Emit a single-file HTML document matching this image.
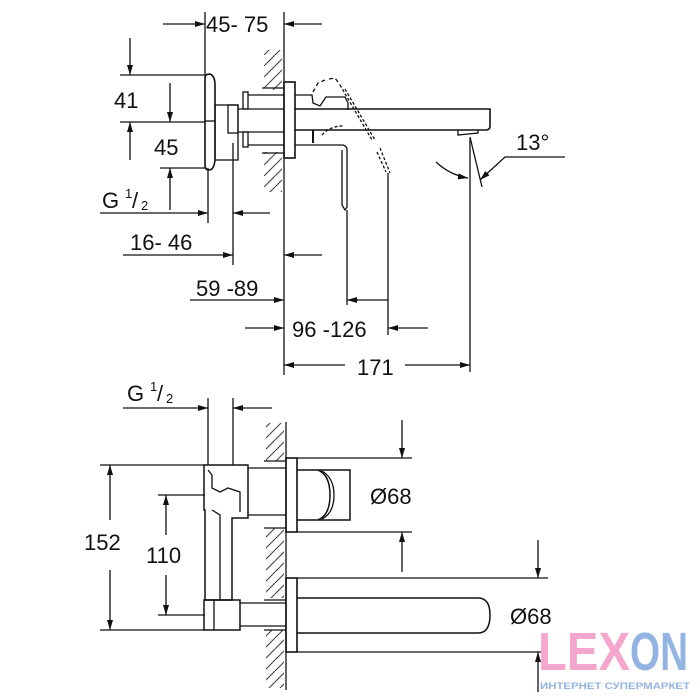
<!DOCTYPE html>
<html><head><meta charset="utf-8"><style>
body{margin:0;background:#fff;}
svg{display:block;}
text{font-family:"Liberation Sans",sans-serif;fill:#111;}
</style></head><body>
<svg width="700" height="700" viewBox="0 0 700 700" xmlns="http://www.w3.org/2000/svg">
<defs>
<marker id="a" viewBox="0 0 10 6" refX="10" refY="3" markerWidth="11" markerHeight="6" markerUnits="userSpaceOnUse" orient="auto"><path d="M0,0 L10,3 L0,6 z" fill="#111"/></marker>
<pattern id="h" width="22" height="11" patternUnits="userSpaceOnUse"><path d="M0,11 L11,0 M11,11 L22,0" stroke="#444" stroke-width="1.1"/></pattern>
</defs>
<g stroke="#111" stroke-width="1.3" fill="none">
<line x1="284" y1="12" x2="284" y2="375"/>
<rect x="264" y="50" width="18" height="40" fill="url(#h)" stroke="none"/>
<rect x="264" y="152" width="18" height="40" fill="url(#h)" stroke="none"/>
<line x1="262" y1="88" x2="284" y2="88"/>
<line x1="262" y1="153" x2="284" y2="153"/>
<line x1="205" y1="12" x2="205" y2="75"/>
<line x1="163" y1="24" x2="205" y2="24" marker-end="url(#a)"/>
<line x1="322" y1="24" x2="284" y2="24" marker-end="url(#a)"/>
<path d="M205,78 Q205,74 210,74 Q215,76 215,85 L215,160 Q214,170 209,170 Q205,170 205,165 Z" stroke-width="1.6"/>
<line x1="205" y1="121" x2="215" y2="121"/>
<rect x="215" y="105" width="23" height="55"/>
<rect x="228" y="105" width="10" height="28"/>
<rect x="243" y="92" width="5" height="17"/>
<rect x="243" y="132" width="5" height="15"/>
<line x1="248" y1="95" x2="284" y2="95"/>
<line x1="238" y1="109" x2="284" y2="109"/>
<line x1="238" y1="132" x2="284" y2="132"/>
<line x1="248" y1="145" x2="284" y2="145"/>
<rect x="284" y="82" width="11" height="76" stroke-width="1.6"/>
<path d="M295,109 L490,109 L490,126 Q490,130 486,130 L295,130" stroke-width="1.6"/>
<path d="M458,130 L458,135 L478,133 L478,130"/>
<path d="M295,95 L312,95 L313,103 L320,106 L326,97 L345,97 L348,103 L348,110"/>
<path d="M295,145 L313,145 L343,145 Q347,146 347,150 L347,207 L345,210 L342,205 L342,150"/>
<line x1="313" y1="130" x2="313" y2="143" stroke-width="2"/>
<path d="M313,92 L318,83 L325,80 M329,79 L335,78 L340,85" stroke-dasharray="4,3"/>
<path d="M340,85 L372,140 M345,89 L375,140 M380,148 L390,173 M377,152 L386,172" stroke-dasharray="3,2"/>
<path d="M322,135 Q330,126 343,126" stroke-dasharray="3,2"/>
<line x1="347" y1="210" x2="347" y2="305"/>
<line x1="388" y1="173" x2="388" y2="335"/>
<line x1="470" y1="138" x2="470" y2="372"/>
<line x1="120" y1="75" x2="205" y2="75"/>
<line x1="120" y1="122" x2="205" y2="122"/>
<line x1="160" y1="168" x2="205" y2="168"/>
<line x1="130" y1="38" x2="130" y2="75" marker-end="url(#a)"/>
<line x1="130" y1="160" x2="130" y2="122" marker-end="url(#a)"/>
<line x1="170" y1="83" x2="170" y2="122" marker-end="url(#a)"/>
<line x1="170" y1="210" x2="170" y2="168" marker-end="url(#a)"/>
<line x1="208" y1="168" x2="208" y2="223"/>
<line x1="233" y1="143" x2="233" y2="265"/>
<line x1="100" y1="213" x2="208" y2="213" marker-end="url(#a)"/>
<line x1="270" y1="213" x2="233" y2="213" marker-end="url(#a)"/>
<line x1="123" y1="255" x2="233" y2="255" marker-end="url(#a)"/>
<line x1="322" y1="255" x2="284" y2="255" marker-end="url(#a)"/>
<line x1="190" y1="300" x2="284" y2="300" marker-end="url(#a)"/>
<line x1="388" y1="300" x2="347" y2="300" marker-end="url(#a)"/>
<line x1="245" y1="328" x2="284" y2="328" marker-end="url(#a)"/>
<line x1="428" y1="328" x2="388" y2="328" marker-end="url(#a)"/>
<line x1="345" y1="365" x2="284" y2="365" marker-end="url(#a)"/>
<line x1="405" y1="365" x2="470" y2="365" marker-end="url(#a)"/>
<line x1="470" y1="137" x2="482" y2="187"/>
<path d="M436,162 Q450,175 468,178" marker-end="url(#a)"/>
<path d="M565,157 L505,157 L480,180" marker-end="url(#a)"/>

<line x1="286" y1="422" x2="286" y2="690"/>
<rect x="266" y="423" width="18" height="38" fill="url(#h)" stroke="none"/>
<rect x="266" y="528" width="18" height="70" fill="url(#h)" stroke="none"/>
<rect x="266" y="630" width="18" height="58" fill="url(#h)" stroke="none"/>
<line x1="264" y1="461" x2="286" y2="461"/>
<line x1="264" y1="528" x2="286" y2="528"/>
<line x1="264" y1="600" x2="286" y2="600"/>
<line x1="264" y1="630" x2="286" y2="630"/>
<line x1="208" y1="398" x2="208" y2="465"/>
<line x1="233" y1="398" x2="233" y2="465"/>
<line x1="123" y1="408" x2="208" y2="408" marker-end="url(#a)"/>
<line x1="272" y1="408" x2="233" y2="408" marker-end="url(#a)"/>
<path d="M204,465 L248,465 L248,518 L232,518 L232,600 L205,600 L205,510 L204,510 Z" stroke-width="1.5"/>
<path d="M208,470 L212,475 L212,488 L220,492 L228,488 L240,492 L240,512 M212,510 L220,515 L220,600"/>
<line x1="248" y1="468" x2="286" y2="468"/>
<line x1="248" y1="515" x2="286" y2="515"/>
<rect x="204" y="600" width="36" height="30" stroke-width="1.5"/>
<line x1="214" y1="600" x2="214" y2="630"/>
<line x1="240" y1="603" x2="286" y2="603"/>
<line x1="240" y1="626" x2="286" y2="626"/>
<rect x="286" y="458" width="11" height="74" stroke-width="1.6"/>
<line x1="297" y1="458" x2="412" y2="458"/>
<line x1="297" y1="532" x2="412" y2="532"/>
<line x1="402" y1="420" x2="402" y2="458" marker-end="url(#a)"/>
<line x1="402" y1="572" x2="402" y2="532" marker-end="url(#a)"/>
<path d="M297,470 L350,470 L350,520 L297,520" stroke-width="1.5"/>
<path d="M318,470 Q330,475 330,495 Q330,515 318,520" stroke-width="1.5"/>
<path d="M322,471 Q334,478 334,495 Q334,513 322,519"/>
<rect x="286" y="578" width="11" height="74" stroke-width="1.6"/>
<line x1="297" y1="578" x2="548" y2="578"/>
<line x1="297" y1="652" x2="545" y2="652"/>
<line x1="538" y1="540" x2="538" y2="578" marker-end="url(#a)"/>
<line x1="538" y1="692" x2="538" y2="652" marker-end="url(#a)"/>
<path d="M297,598 L478,598 Q490,598 490,615 Q490,633 478,633 L297,633" stroke-width="1.5"/>
<line x1="100" y1="465" x2="205" y2="465"/>
<line x1="100" y1="630" x2="205" y2="630"/>
<line x1="110" y1="520" x2="110" y2="465" marker-end="url(#a)"/>
<line x1="110" y1="570" x2="110" y2="630" marker-end="url(#a)"/>
<line x1="158" y1="495" x2="205" y2="495"/>
<line x1="158" y1="615" x2="205" y2="615"/>
<line x1="166" y1="535" x2="166" y2="495" marker-end="url(#a)"/>
<line x1="166" y1="575" x2="166" y2="615" marker-end="url(#a)"/>
</g>
<g font-size="22">
<text x="206" y="32">45- 75</text>
<text x="114" y="108">41</text>
<text x="154" y="155">45</text>
<text x="102" y="208">G</text><text x="125" y="198" font-size="13">1</text><text x="132" y="208">/</text><text x="141" y="210" font-size="13">2</text>
<text x="130" y="250">16- 46</text>
<text x="196" y="296">59 -89</text>
<text x="292" y="337">96 -126</text>
<text x="357" y="375">171</text>
<text x="516" y="150">13°</text>
<text x="127" y="401">G</text><text x="150" y="391" font-size="13">1</text><text x="157" y="401">/</text><text x="166" y="403" font-size="13">2</text>
<text x="84" y="550">152</text>
<text x="146" y="563">110</text>
<text x="370" y="504">Ø68</text>
<text x="510" y="624">Ø68</text>
</g>
<text x="538" y="670" font-size="54" style="fill:#f4a6cc;font-weight:bold" textLength="92" lengthAdjust="spacingAndGlyphs">LEX</text>
<text x="630" y="670" font-size="54" style="fill:#93b3e3;font-weight:bold" textLength="58" lengthAdjust="spacingAndGlyphs">ON</text>
<text x="540" y="689" font-size="9" style="fill:#93b3e3;font-weight:bold" textLength="150" lengthAdjust="spacingAndGlyphs">ИНТЕРНЕТ СУПЕРМАРКЕТ</text>
</svg>
</body></html>
